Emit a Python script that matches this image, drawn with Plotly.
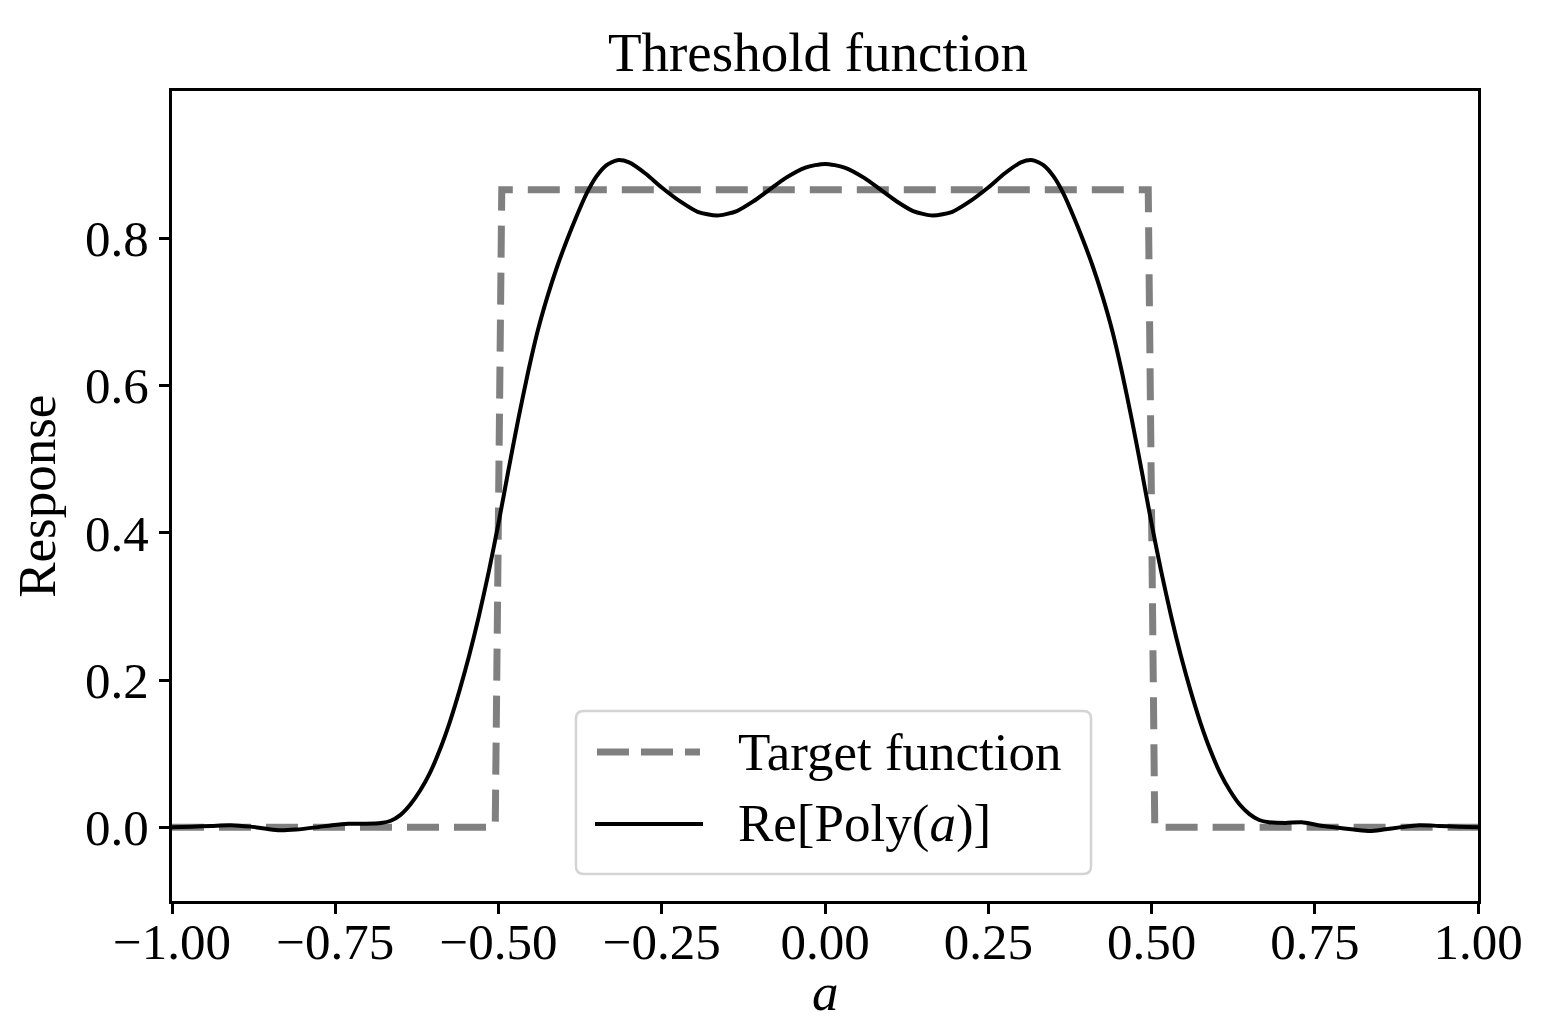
import plotly.graph_objects as go

# target step function
a_target = [-1.0, -0.505, -0.495, 0.495, 0.505, 1.0]
y_target = [0.0, 0.0, 0.866, 0.866, 0.0, 0.0]

# Re[Poly(a)]
a_poly = [-1.00, -0.97, -0.94, -0.91, -0.88, -0.855, -0.835, -0.81, -0.78,
          -0.755, -0.73, -0.705, -0.68, -0.665, -0.65, -0.635, -0.62, -0.605,
          -0.59, -0.575, -0.56, -0.545, -0.53, -0.515, -0.50, -0.485, -0.47,
          -0.455, -0.44, -0.425, -0.41, -0.395, -0.38, -0.365, -0.35, -0.335,
          -0.318, -0.30, -0.275, -0.25, -0.22, -0.195, -0.165, -0.135, -0.11,
          -0.085, -0.06, -0.03, 0.00,
          0.03, 0.06, 0.085, 0.11, 0.135, 0.165, 0.195, 0.22, 0.25, 0.275,
          0.30, 0.318, 0.335, 0.35, 0.365, 0.38, 0.395, 0.41, 0.425, 0.44,
          0.455, 0.47, 0.485, 0.50, 0.515, 0.53, 0.545, 0.56, 0.575, 0.59,
          0.605, 0.62, 0.635, 0.65, 0.665, 0.68, 0.705, 0.73, 0.755, 0.78,
          0.81, 0.835, 0.855, 0.88, 0.91, 0.94, 0.97, 1.00]
y_poly = [0.000, 0.001, 0.002, 0.003, 0.001, -0.002, -0.004, -0.003, 0.000,
          0.003, 0.005, 0.005, 0.006, 0.009, 0.017, 0.031, 0.050, 0.074,
          0.105, 0.142, 0.185, 0.233, 0.287, 0.347, 0.413, 0.484, 0.553,
          0.617, 0.674, 0.721, 0.762, 0.798, 0.831, 0.861, 0.884, 0.899,
          0.906, 0.903, 0.888, 0.869, 0.849, 0.836, 0.831, 0.837, 0.850,
          0.866, 0.882, 0.896, 0.901,
          0.896, 0.882, 0.866, 0.850, 0.837, 0.831, 0.836, 0.849, 0.869, 0.888,
          0.903, 0.906, 0.899, 0.884, 0.861, 0.831, 0.798, 0.762, 0.721, 0.674,
          0.617, 0.553, 0.484, 0.413, 0.347, 0.287, 0.233, 0.185, 0.142, 0.105,
          0.074, 0.050, 0.031, 0.018, 0.010, 0.007, 0.006, 0.007, 0.003, 0.000,
          -0.003, -0.005, -0.003, 0.000, 0.003, 0.002, 0.001, 0.000]

x_ticks = [-1.0, -0.75, -0.5, -0.25, 0.0, 0.25, 0.5, 0.75, 1.0]
x_ticktext = ["\u22121.00", "\u22120.75", "\u22120.50", "\u22120.25",
              "0.00", "0.25", "0.50", "0.75", "1.00"]
y_ticks = [0.0, 0.2, 0.4, 0.6, 0.8]

legend_names = ["Target function", "Re[Poly(<i>a</i>)]"]

serif = "Liberation Serif"
gray = "#808080"

fig = go.Figure()
fig.add_trace(go.Scatter(x=a_target, y=y_target, mode="lines",
                         name=legend_names[0], showlegend=False,
                         line=dict(color=gray, width=7, dash="32px,15px")))
fig.add_trace(go.Scatter(x=a_poly, y=y_poly, mode="lines",
                         name=legend_names[1], showlegend=False,
                         line=dict(color="black", width=4,
                                   shape="spline", smoothing=0.7)))

axis_common = dict(showgrid=False, zeroline=False, showline=True,
                   linecolor="black", linewidth=3, mirror=True,
                   ticks="outside", ticklen=10, tickwidth=2.5,
                   tickcolor="black", automargin=False,
                   tickfont=dict(family=serif, size=51, color="black"))

# legend box (matplotlib style, rounded corners) in paper coordinates
x0, x1, y0, y1 = 0.3093, 0.7037, 0.0333, 0.2346
rx, ry = 0.006, 0.0095
box = (f"M{x0 + rx},{y0} L{x1 - rx},{y0} Q{x1},{y0} {x1},{y0 + ry} "
       f"L{x1},{y1 - ry} Q{x1},{y1} {x1 - rx},{y1} "
       f"L{x0 + rx},{y1} Q{x0},{y1} {x0},{y1 - ry} "
       f"L{x0},{y0 + ry} Q{x0},{y0} {x0 + rx},{y0} Z")
shapes = [
    dict(type="path", xref="paper", yref="paper", path=box,
         fillcolor="rgba(255,255,255,0.8)", line=dict(color="#d4d4d4", width=2.5)),
    dict(type="line", xref="paper", yref="paper",
         x0=0.3254, x1=0.4043, y0=0.184, y1=0.184,
         line=dict(color=gray, width=7, dash="32px,12px")),
    dict(type="line", xref="paper", yref="paper",
         x0=0.3239, x1=0.4066, y0=0.0951, y1=0.0951,
         line=dict(color="black", width=4)),
]
annotations = [
    dict(text=legend_names[0], xref="paper", yref="paper", x=0.4315, y=0.184,
         xanchor="left", yanchor="middle", showarrow=False,
         font=dict(family=serif, size=53, color="black")),
    dict(text=legend_names[1], xref="paper", yref="paper", x=0.4315, y=0.0951,
         xanchor="left", yanchor="middle", showarrow=False,
         font=dict(family=serif, size=53, color="black")),
    dict(text="<i>a</i>", xref="paper", yref="paper", x=0.5, y=-0.112,
         xanchor="center", yanchor="middle", showarrow=False,
         font=dict(family=serif, size=53, color="black")),
    dict(text="Response", xref="paper", yref="paper", x=-0.1035, y=0.5,
         xanchor="center", yanchor="middle", showarrow=False, textangle=-90,
         font=dict(family=serif, size=53, color="black")),
]

fig.update_layout(
    width=1538, height=1014,
    margin=dict(l=164, r=68, t=83, b=121),
    paper_bgcolor="white", plot_bgcolor="white",
    font=dict(family=serif, color="black"),
    title=dict(text="Threshold function", xref="paper", x=0.4946,
               xanchor="center", y=0.9566, yanchor="middle",
               font=dict(family=serif, size=55, color="black")),
    xaxis=dict(range=[-1.0, 1.0], tickvals=x_ticks, ticktext=x_ticktext,
               ticklabelstandoff=-16, **axis_common),
    yaxis=dict(range=[-0.1, 1.0], tickvals=y_ticks, tickformat=".1f",
               **axis_common),
    shapes=shapes,
    annotations=annotations,
    showlegend=False,
)

fig.write_html("out.html")
